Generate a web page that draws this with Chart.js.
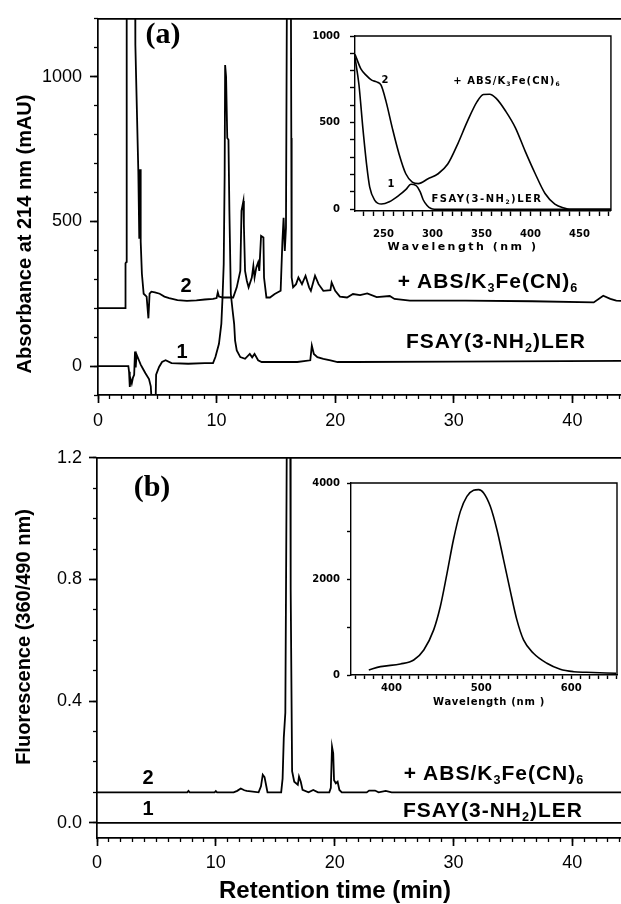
<!DOCTYPE html>
<html>
<head>
<meta charset="utf-8">
<script src="https://cdn.jsdelivr.net/npm/chart.js@4.4.1/dist/chart.umd.min.js"></script>
<style>
  body { margin: 0; background: #fff; }
  #fig { position: relative; width: 621px; height: 904px; overflow: hidden; font-family: "Liberation Sans", Arial, sans-serif; color: #000; }
  canvas { position: absolute; }
  .lbl { position: absolute; transform: translate(-50%, -50%); white-space: nowrap; line-height: 1; font-weight: bold; }
  .big { font-size: 21px; letter-spacing: 1px; }
  .num { font-size: 20px; }
  .serif { font-family: "Liberation Serif", "Times New Roman", serif; font-size: 30px; }
  .ins { font-family: "DejaVu Sans", sans-serif; font-size: 10px; }
  .sub { font-size: 0.6em; position: relative; top: 0.35em; }
  .rot { transform: translate(-50%, -50%) rotate(-90deg); font-size: 20px; }
</style>
</head>
<body>
<div id="fig">
  <canvas id="chartA" width="621" height="440" style="left:0;top:0"></canvas>
  <canvas id="chartB" width="621" height="464" style="left:0;top:440px"></canvas>
  <canvas id="insetA" width="321" height="240" style="left:300px;top:20px"></canvas>
  <canvas id="insetB" width="321" height="240" style="left:300px;top:460px"></canvas>

  <div class="lbl serif" style="left:163px;top:33px">(a)</div>
  <div class="lbl num" style="left:186px;top:285px">2</div>
  <div class="lbl num" style="left:182px;top:351px">1</div>
  <div class="lbl big" style="left:488px;top:280px">+ ABS/K<span class="sub">3</span>Fe(CN)<span class="sub">6</span></div>
  <div class="lbl big" style="left:496px;top:340px">FSAY(3-NH<span class="sub">2</span>)LER</div>
  <div class="lbl rot" style="left:24px;top:234px">Absorbance at 214 nm (mAU)</div>

  <div class="lbl ins" style="left:385px;top:80px">2</div>
  <div class="lbl ins" style="left:391px;top:184px">1</div>
  <div class="lbl ins" style="left:507px;top:81px;letter-spacing:1px">+ ABS/K<span class="sub">3</span>Fe(CN)<span class="sub">6</span></div>
  <div class="lbl ins" style="left:487px;top:199px;letter-spacing:1.5px">FSAY(3-NH<span class="sub">2</span>)LER</div>
  <div class="lbl ins" style="left:463px;top:246px;font-size:11px;letter-spacing:2.5px">Wavelength (nm )</div>

  <div class="lbl serif" style="left:152px;top:486px">(b)</div>
  <div class="lbl num" style="left:148px;top:777px">2</div>
  <div class="lbl num" style="left:148px;top:808px">1</div>
  <div class="lbl big" style="left:494px;top:772px">+ ABS/K<span class="sub">3</span>Fe(CN)<span class="sub">6</span></div>
  <div class="lbl big" style="left:493px;top:809px">FSAY(3-NH<span class="sub">2</span>)LER</div>
  <div class="lbl rot" style="left:23px;top:637px">Fluorescence (360/490 nm)</div>
  <div class="lbl ins" style="left:489px;top:702px;letter-spacing:0.7px">Wavelength (nm )</div>

  <div class="lbl" style="left:335px;top:890px;font-size:24px">Retention time (min)</div>
</div>
<script>
// (a) absorbance at 214 nm, trace 1 = FSAY(3-NH2)LER, trace 2 = + ABS/K3Fe(CN)6
const timeA1 = [0, 2.56, 2.62, 2.68, 2.75, 2.85, 2.95, 3.05, 3.12, 3.18, 3.25, 3.35, 3.45, 3.6, 3.8, 4.0, 4.3, 4.45, 4.55, 4.85, 4.9, 5.15, 5.4, 5.7, 6.2, 7.6, 9.0, 9.7, 9.9, 10.2, 10.4, 10.5, 10.6, 10.68, 10.72, 10.8, 10.86, 10.9, 11.0, 11.08, 11.2, 11.35, 11.48, 11.56, 11.7, 12.0, 12.4, 12.8, 13.0, 13.2, 13.5, 13.8, 15.1, 16.8, 17.9, 18.03, 18.2, 18.5, 19.0, 19.6, 20.2, 21.6, 30, 44.1];
const absA1 = [0, 0, -20, -72, -45, -60, -40, -30, 50, -5, 40, 30, 20, 5, -10, -25, -45, -70, -140, -140, -30, -3, 14, 20, 10, 8, 10, 10, 31, 77, 146, 237, 352, 662, 1040, 1000, 1000, 788, 782, 535, 249, 192, 146, 88, 54, 31, 25, 42, 30, 42, 20, 14, 14, 14, 20, 71, 42, 31, 25, 20, 14, 14, 15, 18];
const timeA2 = [0, 2.3, 2.32, 2.4, 2.42, 3.12, 3.15, 3.4, 3.48, 3.55, 3.6, 3.7, 3.85, 4.1, 4.25, 4.35, 4.5, 4.8, 5.2, 5.6, 6.0, 6.7, 7.5, 8.3, 9.0, 9.7, 10.0, 10.1, 10.2, 10.5, 11.4, 11.7, 12.0, 12.1, 12.26, 12.3, 12.4, 12.55, 12.7, 12.97, 13.1, 13.2, 13.35, 13.5, 13.6, 13.75, 13.95, 14.0, 14.2, 14.5, 14.9, 15.4, 15.55, 15.65, 15.75, 15.85, 15.95, 16.25, 16.3, 16.33, 16.45, 16.7, 16.9, 17.2, 17.5, 17.8, 17.95, 18.3, 18.6, 19.0, 19.6, 19.7, 20.0, 20.4, 21.0, 21.5, 22.1, 22.7, 23.5, 24.6, 25.0, 26.3, 31, 36.6, 41.8, 42.6, 43.2, 43.7, 44.1];
const absA2 = [200, 200, 355, 360, 1500, 1500, 1110, 673, 440, 680, 430, 320, 250, 240, 165, 250, 257, 255, 250, 240, 235, 228, 225, 227, 230, 232, 235, 255, 240, 237, 237, 272, 329, 536, 570, 490, 329, 295, 272, 306, 346, 306, 341, 358, 329, 450, 444, 306, 237, 237, 249, 260, 432, 512, 398, 478, 1500, 1500, 788, 306, 272, 283, 306, 283, 312, 272, 260, 312, 283, 260, 262, 289, 260, 240, 237, 249, 245, 251, 238, 242, 232, 226, 226, 224, 220, 243, 232, 226, 225];

// (b) fluorescence 360/490 nm
const timeB1 = [0, 44.1];
const fluB1 = [0, 0];
const timeB2 = [0, 7.6, 7.7, 7.8, 9.9, 10.0, 10.1, 11.5, 11.8, 12.1, 12.4, 12.6, 13.6, 13.8, 13.95, 14.1, 14.25, 14.35, 15.5, 15.62, 15.72, 15.85, 15.95, 16.0, 16.25, 16.3, 16.42, 16.6, 16.9, 17.0, 17.15, 17.3, 17.8, 18.2, 18.6, 19.55, 19.68, 19.78, 19.88, 19.95, 20.1, 20.25, 20.4, 20.6, 22.7, 22.9, 23.4, 23.7, 24.3, 24.8, 44.1];
const fluB2 = [0.1, 0.1, 0.105, 0.1, 0.1, 0.104, 0.1, 0.1, 0.105, 0.113, 0.107, 0.105, 0.1, 0.12, 0.158, 0.15, 0.12, 0.1, 0.1, 0.145, 0.28, 0.362, 1.07, 1.5, 1.5, 0.77, 0.17, 0.135, 0.125, 0.152, 0.135, 0.108, 0.1, 0.108, 0.1, 0.1, 0.115, 0.25, 0.228, 0.14, 0.13, 0.135, 0.108, 0.1, 0.1, 0.106, 0.106, 0.1, 0.105, 0.1, 0.1];

// inset (a): UV spectra
const uvNm1 = [221, 225, 229, 233, 236, 241, 248, 256, 266, 273, 278, 283, 287.5, 290.5, 294.5, 298.5, 302, 482];
const uvAbs1 = [877, 720, 470, 250, 128, 53, 30, 43, 81, 115, 144, 138, 100, 55, 22, 4, 0, 0];
const uvNm2 = [221, 227, 232.5, 238, 243, 247.6, 252.7, 259, 266, 272.8, 279.4, 285.6, 295.5, 305.8, 315.6, 325.6, 335.6, 345.5, 352, 358.2, 365, 374.8, 384.6, 394.4, 404.8, 414.8, 424.8, 435, 440, 482];
const uvAbs2 = [895, 810, 773, 745, 735, 716, 621, 470, 318, 205, 157, 148, 176, 205, 261, 375, 507, 621, 662, 664, 640, 565, 470, 337, 205, 91, 30, 6, 0, 0];

// inset (b): emission spectrum
const emNm = [374.8, 387.8, 410, 424.8, 436, 447, 454.4, 461.9, 469, 476.7, 484, 491.4, 497, 502.6, 510, 517.4, 524.8, 532, 539.6, 547, 558, 573, 587.8, 602.6, 617, 650];
const emInt = [104, 174, 230, 313, 522, 940, 1426, 2123, 2818, 3409, 3722, 3848, 3862, 3793, 3514, 3027, 2400, 1775, 1148, 731, 453, 244, 119, 69, 56, 35];

const pts = (xs, ys) => xs.map((x, i) => ({ x, y: ys[i] }));
const onStep = (v, s) => Math.abs(v / s - Math.round(v / s)) < 1e-6;

function stepTicks(step) {
    return scale => {
        const first = Math.ceil(scale.min / step - 1e-9);
        const last = Math.floor(scale.max / step + 1e-9);
        const ticks = [];
        for (let i = first; i <= last; i++) ticks.push({ value: +(i * step).toFixed(6) });
        scale.ticks = ticks;
    };
}

function axis(o) {
    return {
        type: 'linear',
        position: o.pos,
        weight: o.weight || 0,
        min: o.min,
        max: o.max,
        afterBuildTicks: stepTicks(o.step),
        afterFit: s => { if (o.pos === 'left') s.width = o.size; else s.height = o.size; },
        ticks: {
            display: !!o.fmt,
            color: '#000',
            font: o.font,
            padding: o.pad || 0,
            autoSkip: false,
            maxRotation: 0,
            callback: o.fmt || (() => '')
        },
        grid: { drawOnChartArea: false, drawTicks: true, tickLength: o.tick, tickColor: '#000', tickWidth: o.lw },
        border: { display: !!o.border, color: '#000', width: o.lw }
    };
}

// top line (main panels) or full box (insets)
const frame = {
    id: 'frame',
    afterDraw(chart, args, opts) {
        const { ctx, chartArea: a } = chart;
        ctx.save();
        ctx.strokeStyle = '#000';
        ctx.lineWidth = opts.width || 1.5;
        ctx.beginPath();
        ctx.moveTo(a.left, a.top);
        ctx.lineTo(a.right, a.top);
        if (opts.box) ctx.lineTo(a.right, a.bottom);
        ctx.stroke();
        ctx.restore();
    }
};

const mainFont = { family: 'Liberation Sans, Arial, sans-serif', size: 18 };
const insetFont = { family: 'DejaVu Sans, sans-serif', size: 10, weight: 'bold' };

function lineChart(id, datasets, scales, padding, frameOpts, lw, smooth) {
    return new Chart(document.getElementById(id), {
        type: 'line',
        data: { datasets: datasets.map(d => ({ data: d, xAxisID: 'x', yAxisID: 'y' })) },
        options: {
            responsive: false,
            devicePixelRatio: 1,
            animation: false,
            events: [],
            layout: { padding, autoPadding: false },
            elements: {
                point: { radius: 0 },
                line: { borderColor: '#000', borderWidth: lw, tension: 0, fill: false, cubicInterpolationMode: smooth ? 'monotone' : 'default' }
            },
            plugins: { legend: { display: false }, tooltip: { enabled: false }, frame: frameOpts },
            scales
        },
        plugins: [frame]
    });
}

lineChart('chartA', [pts(timeA1, absA1), pts(timeA2, absA2)], {
    x: axis({ pos: 'bottom', weight: 1, min: 0, max: 44.1, step: 10, size: 45, tick: 8, lw: 1.7, pad: 7, font: mainFont, border: true, fmt: v => String(v) }),
    xMinor: axis({ pos: 'bottom', weight: 0, min: 0, max: 44.1, step: 1, size: 0, tick: 4, lw: 1.3 }),
    y: axis({ pos: 'left', weight: 1, min: -100, max: 1200, step: 500, size: 98, tick: 8, lw: 1.7, pad: 8, font: mainFont, border: true, fmt: v => String(v) }),
    yMinor: axis({ pos: 'left', weight: 0, min: -100, max: 1200, step: 100, size: 0, tick: 4, lw: 1.3 })
}, { top: 15, right: 0, bottom: 0, left: 0 }, { width: 1.7 }, 1.8, false);

lineChart('chartB', [pts(timeB1, fluB1), pts(timeB2, fluB2)], {
    x: axis({ pos: 'bottom', weight: 1, min: 0, max: 44.1, step: 10, size: 66, tick: 8, lw: 1.7, pad: 6, font: mainFont, border: true, fmt: v => String(v) }),
    xMinor: axis({ pos: 'bottom', weight: 0, min: 0, max: 44.1, step: 1, size: 0, tick: 4, lw: 1.3 }),
    y: axis({ pos: 'left', weight: 1, min: -0.05, max: 1.2, step: 0.4, size: 97, tick: 8, lw: 1.7, pad: 7, font: mainFont, border: true, fmt: v => v.toFixed(1) }),
    yMinor: axis({ pos: 'left', weight: 0, min: -0.05, max: 1.2, step: 0.1, size: 0, tick: 4, lw: 1.3 })
}, { top: 12, right: 0, bottom: 0, left: 0 }, { width: 1.7 }, 1.8, false);

lineChart('insetA', [pts(uvNm1, uvAbs1), pts(uvNm2, uvAbs2)], {
    x: axis({ pos: 'bottom', min: 221, max: 482, step: 10, size: 49, tick: 5, lw: 1.4, pad: 12, font: insetFont, border: true, fmt: v => (onStep(v, 50) ? String(v) : '') }),
    y: axis({ pos: 'left', min: -10, max: 1000, step: 100, size: 55, tick: 5, lw: 1.4, pad: 10, font: insetFont, border: true, fmt: v => (onStep(v, 500) ? String(v) : '') })
}, { top: 13, right: 4, bottom: 0, left: 0 }, { box: true, width: 1.4 }, 1.6, true);

lineChart('insetB', [pts(emNm, emInt)], {
    x: axis({ pos: 'bottom', min: 355, max: 651, step: 10, size: 25, tick: 4, lw: 1.4, pad: 3, font: insetFont, border: true, fmt: v => (onStep(v, 100) ? String(v) : '') }),
    y: axis({ pos: 'left', min: 0, max: 4000, step: 1000, size: 51, tick: 4, lw: 1.4, pad: 7, font: insetFont, border: true, fmt: v => (onStep(v, 2000) ? String(v) : '') })
}, { top: 23, right: 4, bottom: 0, left: 0 }, { box: true, width: 1.4 }, 1.6, true);
</script>
</body>
</html>
